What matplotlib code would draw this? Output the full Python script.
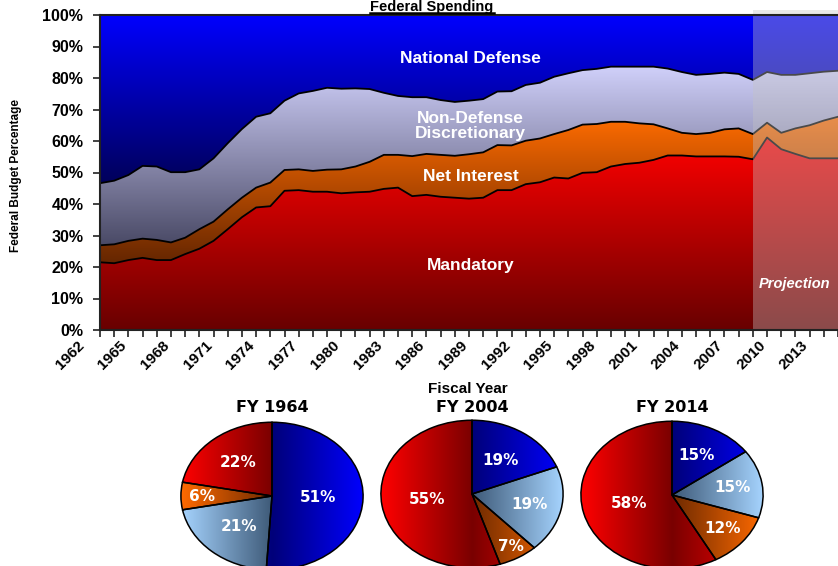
import matplotlib
matplotlib.use("Agg")
import matplotlib.pyplot as plt
import numpy as np
from matplotlib.colors import LinearSegmentedColormap
from matplotlib.patches import Rectangle
from matplotlib.lines import Line2D
from matplotlib.transforms import ScaledTranslation

plt.rcParams["font.family"] = ["Liberation Sans", "DejaVu Sans"]

W, H = 838, 566

# share of federal budget (%) by fiscal year
years = np.arange(1962, 2015)
mandatory = [21.5, 21.2, 22.2, 22.9, 22.2, 22.2, 24.1, 25.8, 28.3, 32.0,
             35.8, 38.9, 39.3, 44.2, 44.4, 43.9, 43.9, 43.4, 43.7, 43.9,
             44.8, 45.2, 42.5, 42.9, 42.3, 42.0, 41.7, 42.0, 44.4, 44.4,
             46.3, 46.9, 48.4, 48.1, 49.9, 50.1, 51.9, 52.7, 53.1, 54.0,
             55.4, 55.4, 55.1, 55.1, 55.1, 55.0, 54.2, 61.1, 57.4, 55.9,
             54.5, 54.5, 54.5]
net_interest = [5.4, 6.0, 6.1, 6.1, 6.4, 5.6, 5.2, 6.2, 6.1, 6.3,
                6.2, 6.3, 7.5, 6.6, 6.6, 6.6, 7.0, 7.6, 8.2, 9.5,
                10.8, 10.4, 12.7, 13.0, 13.3, 13.3, 14.1, 14.4, 14.3, 14.2,
                13.8, 13.9, 13.8, 15.4, 15.3, 15.3, 14.2, 13.4, 12.5, 11.3,
                8.6, 7.2, 7.1, 7.5, 8.6, 9.0, 8.0, 4.7, 5.2, 8.1,
                10.5, 12.0, 13.2]
non_defense = [19.7, 20.2, 20.9, 23.1, 23.3, 22.3, 20.8, 19.0, 20.1, 21.0,
               21.8, 22.5, 22.0, 22.0, 24.1, 25.4, 26.0, 25.6, 24.8, 23.1,
               19.7, 18.7, 18.7, 18.0, 17.4, 17.1, 17.0, 16.9, 17.0, 17.2,
               17.7, 17.7, 18.2, 18.0, 17.3, 17.5, 17.5, 17.5, 18.0, 18.3,
               19.0, 19.3, 18.8, 18.7, 18.0, 17.3, 17.2, 16.1, 18.4, 17.0,
               16.5, 15.5, 14.6]
defense = [53.4, 52.6, 50.8, 47.9, 48.1, 49.9, 49.9, 49.0, 45.5, 40.7,
           36.2, 32.3, 31.2, 27.2, 24.9, 24.1, 23.1, 23.4, 23.3, 23.5,
           24.7, 25.7, 26.1, 26.1, 27.0, 27.6, 27.2, 26.7, 24.3, 24.2,
           22.2, 21.5, 19.6, 18.5, 17.5, 17.1, 16.4, 16.4, 16.4, 16.4,
           17.0, 18.1, 19.0, 18.7, 18.3, 18.7, 20.6, 18.1, 19.0, 19.0,
           18.5, 18.0, 17.7]
label_years = list(range(1962, 2015, 3))
proj_start = 2008

# (dark, bright) gradient ends for each stacked series
area_colors = [("#680000", "#ff0000"), ("#652600", "#ff6c00"),
               ("#4a4a66", "#d0d0fa"), ("#00005a", "#0000ff")]

# pies: defense, non-defense, net interest, mandatory
pie_titles = ["FY 1964", "FY 2004", "FY 2014"]
pie_1964 = [51, 21, 6, 22]
pie_2004 = [19, 19, 7, 55]
pie_2014 = [15, 15, 12, 58]
pie_colors = [("#00007a", "#0000ff"), ("#3e5a78", "#a6d4ff"),
              ("#6e2a00", "#ff6a00"), ("#7a0000", "#ff0000")]

fig = plt.figure(figsize=(W / 100, H / 100), dpi=100)
ax = fig.add_axes([100 / W, 1 - 330 / H, 738 / W, 315 / H])

polys = ax.stackplot(years, mandatory, net_interest, non_defense, defense,
                     colors=["none"] * 4, linewidth=0)
grad = np.linspace(0, 1, 256).reshape(-1, 1)
for poly, (c0, c1) in zip(polys, area_colors):
    path = poly.get_paths()[0]
    y0, y1 = path.vertices[:, 1].min(), path.vertices[:, 1].max()
    cmap = LinearSegmentedColormap.from_list("g", [c0, c1])
    im = ax.imshow(grad, cmap=cmap, aspect="auto", origin="lower",
                   extent=[years[0], years[-1], y0, y1], zorder=1)
    im.set_clip_path(path, ax.transData)

tops = np.cumsum([mandatory, net_interest, non_defense], axis=0)
for t in tops:
    ax.plot(years, t, color="black", lw=1.3, zorder=3)

# projection overlay
ax.add_patch(Rectangle((proj_start, 0), years[-1] - proj_start, 101.6,
                       facecolor="#c4c4c4", alpha=0.38, edgecolor="none",
                       clip_on=False, zorder=4))

ax.set_xlim(years[0], years[-1])
ax.set_ylim(0, 100)
ax.set_yticks(range(0, 101, 10))
ax.set_yticklabels([f"{v}%" for v in range(0, 101, 10)], fontsize=11.5, fontweight="bold")
ax.set_xticks(years)
ax.set_xticklabels([])
# rotated year labels, right end sitting a little left of the tick (Excel style)
xlab_tr = ax.get_xaxis_transform() + ScaledTranslation(-0.18, -0.13, fig.dpi_scale_trans)
for y in label_years:
    ax.text(y, 0, str(y), transform=xlab_tr, rotation=45, ha="right", va="center",
            rotation_mode="anchor", fontsize=11, fontweight="bold", clip_on=False)
ax.tick_params(axis="both", which="both", direction="out", length=5, width=1.2, color="#222222")
ax.tick_params(axis="y", pad=7)
for s in ["left", "bottom", "top"]:
    ax.spines[s].set_color("#222222")
    ax.spines[s].set_linewidth(1.5)
    ax.spines[s].set_zorder(5)
ax.spines["right"].set_visible(False)

lbl = dict(color="white", fontweight="bold", ha="center", va="center", fontsize=12.5, zorder=6)
ax.text(1988.1, 86.3, "National Defense", **lbl)
ax.text(1988.1, 64.8, "Non-Defense\nDiscretionary", linespacing=1.0, **lbl)
ax.text(1988.1, 48.6, "Net Interest", **lbl)
ax.text(1988.1, 20.6, "Mandatory", **lbl)
ax.text(2008.45, 14.6, "Projection", color="white", fontweight="bold", style="italic",
        ha="left", va="center", fontsize=10.5, zorder=6)

fig.text(16 / W, 1 - 176 / H, "Federal Budget Percentage", rotation=90,
         ha="center", va="center", fontsize=8.5, fontweight="bold")
fig.text(468 / W, 1 - 389 / H, "Fiscal Year", ha="center", va="center",
         fontsize=11, fontweight="bold")

# title squeezed into the band above the chart, underlined
title = fig.text(432 / W, 1 - 11 / H, "Federal Spending", ha="center", va="baseline",
                 fontsize=10.5, fontweight="bold")
bb = title.get_window_extent(renderer=fig.canvas.get_renderer())
fig.add_artist(Line2D([bb.x0 / W, bb.x1 / W], [1 - 12.5 / H, 1 - 12.5 / H],
                      color="black", lw=1.8))

# pies
pie_centers = [(272, 496), (472, 494), (672, 495)]
label_r = [[0.5, 0.55, 0.77, 0.59], [0.55, 0.65, 0.83, 0.5], [0.6, 0.67, 0.72, 0.49]]
hgrad = np.abs(np.linspace(-1, 1, 256)).reshape(1, -1)
for (cx, cy), ttl, vals, rads in zip(pie_centers, pie_titles,
                                     [pie_1964, pie_2004, pie_2014], label_r):
    pw, ph = 184, 149
    pax = fig.add_axes([(cx - pw / 2) / W, 1 - (cy + ph / 2) / H, pw / W, ph / H])
    wedges, _ = pax.pie(vals, startangle=90, counterclock=False, colors=["none"] * 4,
                        wedgeprops=dict(edgecolor="black", linewidth=1.1, zorder=2))
    pax.set_aspect("auto")
    for w, (c0, c1), v, r in zip(wedges, pie_colors, vals, rads):
        cmap = LinearSegmentedColormap.from_list("p", [c0, c1])
        im = pax.imshow(hgrad, cmap=cmap, extent=[-1, 1, -1, 1], aspect="auto", zorder=1)
        im.set_clip_path(w)
        mid = np.deg2rad((w.theta1 + w.theta2) / 2)
        pax.text(r * np.cos(mid), r * np.sin(mid), f"{v}%", color="white",
                 fontweight="bold", fontsize=11, family="DejaVu Sans",
                 ha="center", va="center", zorder=3)
    pax.set_xlim(-1.01, 1.01)
    pax.set_ylim(-1.01, 1.01)
    fig.text(cx / W, 1 - 407 / H, ttl, ha="center", va="center",
             fontsize=11.5, fontweight="bold", family="DejaVu Sans")

fig.savefig("out.png", dpi=100)
